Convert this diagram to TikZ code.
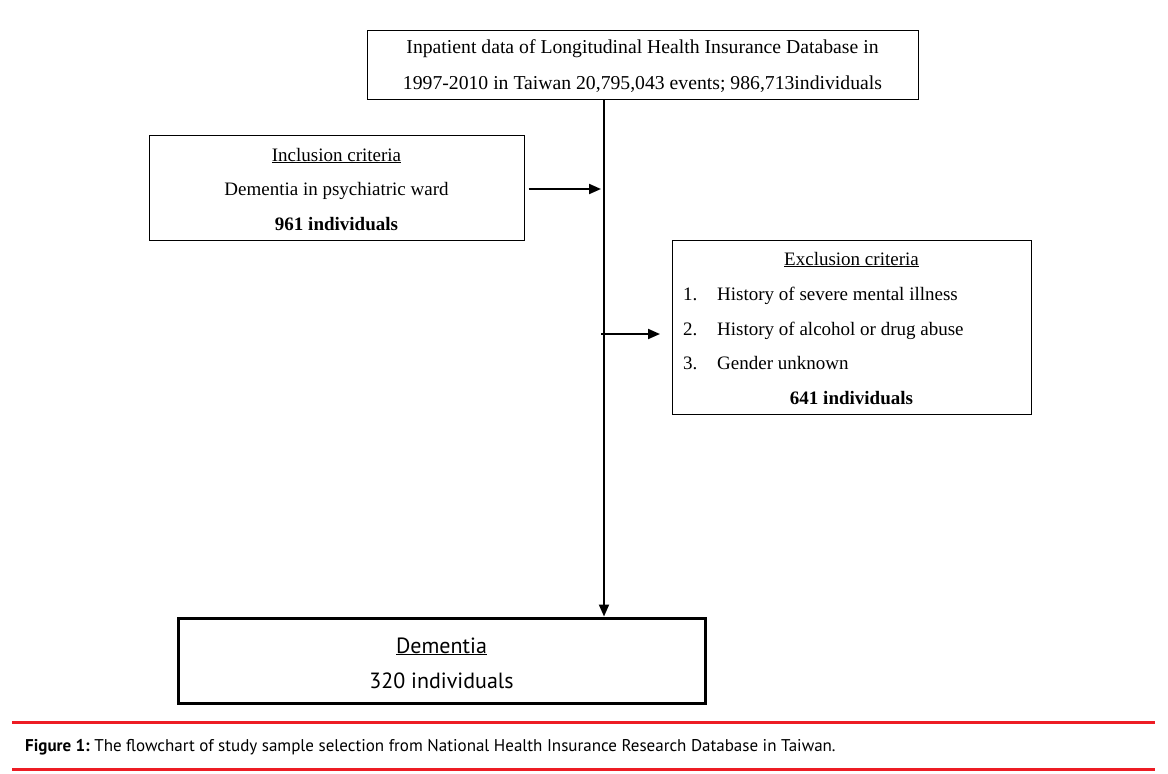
\documentclass[tikz,border=0pt]{standalone}
\usepackage{fontspec}
\setmainfont{Liberation Serif}
\newfontfamily\dsans{PT Sans}
\newfontfamily\capfont{PT Sans}
\usetikzlibrary{arrows.meta,calc}
\definecolor{capred}{RGB}{237,28,36}
\begin{document}
\begin{tikzpicture}[x=1pt,y=-1pt,
  thinbox/.style={draw, line width=1pt, inner sep=0pt},
  thickbox/.style={draw, line width=3pt, inner sep=0pt},
  serift/.style={font=\fontsize{19}{21}\selectfont, inner sep=0pt, anchor=base},
  flow/.style={line width=2pt, -{Triangle[length=12pt,width=10pt]}}]
\useasboundingbox (0,0) rectangle (1168,774);
\fill[white] (0,0) rectangle (1168,774);
% top box
\node[thinbox, minimum width=551pt, minimum height=69pt] (top) at (642.5,64.5) {};
\node[serift, font=\fontsize{19.7}{21}\selectfont] (t1) at (642.5,53) {Inpatient data of Longitudinal Health Insurance Database in};
\node[serift, font=\fontsize{19.7}{21}\selectfont] (t2) at (642.5,89) {1997-2010 in Taiwan 20,795,043 events; 986,713individuals};
% inclusion box
\node[thinbox, minimum width=375pt, minimum height=105pt] (inc) at (336.5,187.5) {};
\node[serift] (i1) at (336.5,161) {\underline{Inclusion criteria}};
\node[serift] (i2) at (336.5,195) {Dementia in psychiatric ward};
\node[serift] (i3) at (336.5,230) {\bfseries 961 individuals};
% exclusion box
\node[thinbox, minimum width=359pt, minimum height=174pt] (exc) at (851.5,327) {};
\node[serift] (e0) at (851.5,265) {\underline{Exclusion criteria}};
\node[serift, anchor=base west] (n1) at (683,300) {1.};
\node[serift, anchor=base west] (e1) at (717,300) {History of severe mental illness};
\node[serift, anchor=base west] (n2) at (683,335) {2.};
\node[serift, anchor=base west] (e2) at (717,335) {History of alcohol or drug abuse};
\node[serift, anchor=base west] (n3) at (683,369) {3.};
\node[serift, anchor=base west] (e3) at (717,369) {Gender unknown};
\node[serift] (e4) at (851.5,404) {\bfseries 641 individuals};
% dementia box
\node[thickbox, minimum width=527pt, minimum height=85pt] (dem) at (441.5,660.5) {};
\node[inner sep=0pt, anchor=base, font=\dsans\fontsize{22}{24}\selectfont] (d1) at (441.5,653) {\underline{Dementia}};
\node[inner sep=0pt, anchor=base, font=\dsans\fontsize{22}{24}\selectfont] (d2) at (441.5,688) {320 individuals};
% connectors
\coordinate (vtop) at (top.south -| 604,0);
\coordinate (vbot) at (dem.north -| 604,0);
\draw[flow] (vtop) -- (vbot);
\coordinate (incstart) at ($(inc.east)+(4,1.5)$);
\coordinate (incend) at (601,189);
\draw[flow] (incstart) -- (incend);
\coordinate (excstart) at (601,334);
\coordinate (excend) at (660,334);
\draw[flow] (excstart) -- (excend);
% caption rules
\coordinate (r1a) at (12,722); \coordinate (r1b) at (1155,722);
\coordinate (r2a) at (12,769); \coordinate (r2b) at (1155,769);
\draw[capred, line width=3pt] (r1a) -- (r1b);
\draw[capred, line width=3pt] (r2a) -- (r2b);
\node[inner sep=0pt, anchor=base west, font=\capfont\fontsize{17}{19}\selectfont] (cap) at (25,751) {\bfseries Figure 1:\mdseries\ The flowchart of study sample selection from National Health Insurance Research Database in Taiwan.};
\end{tikzpicture}
\end{document}
